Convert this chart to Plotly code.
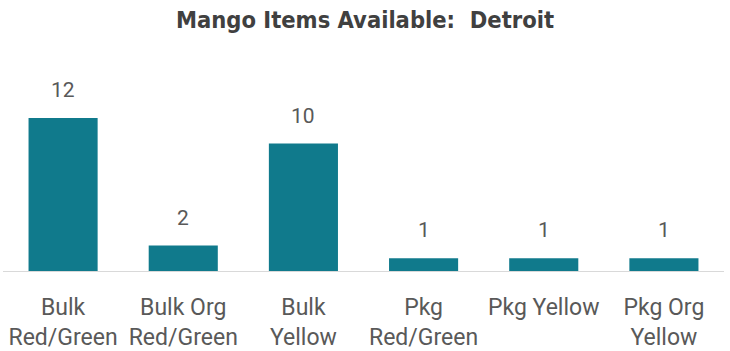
import plotly.graph_objects as go

categories = ["Bulk<br>Red/Green", "Bulk Org<br>Red/Green", "Bulk<br>Yellow",
              "Pkg<br>Red/Green", "Pkg Yellow", "Pkg Org<br>Yellow"]
values = [12, 2, 10, 1, 1, 1]
title_text = "Mango Items Available:  Detroit"

bar_color = "#107A8C"
label_color = "#595959"

fig = go.Figure(go.Bar(x=categories, y=values, marker_color=bar_color,
                       marker_line_width=0, hoverinfo="skip"))

for c, v in zip(categories, values):
    fig.add_annotation(x=c, y=v, text=str(v), showarrow=False, yanchor="bottom",
                       yshift=14, font=dict(family="Roboto", size=21, color=label_color))

fig.update_layout(
    width=730, height=351,
    margin=dict(l=3, r=6, t=60, b=80, autoexpand=False),
    paper_bgcolor="white", plot_bgcolor="white",
    bargap=0.425,
    showlegend=False,
    title=dict(text="<b>" + title_text + "</b>", x=0.5, xanchor="center",
               y=0.945, yanchor="middle",
               font=dict(family="Liberation Sans Narrow, DejaVu Sans Condensed", size=23.5, color="#404040")),
    xaxis=dict(showline=True, linecolor="#D9D9D9", linewidth=1, ticks="",
               automargin=False, ticklabelstandoff=15,
               tickfont=dict(family="Roboto", size=23, color=label_color),
               showgrid=False, fixedrange=True),
    yaxis=dict(range=[0, 16.55], visible=False, showgrid=False, fixedrange=True, automargin=False),
)

fig.write_html("out.html", config={"displayModeBar": False},
               post_script="document.body.style.margin='0px';")
